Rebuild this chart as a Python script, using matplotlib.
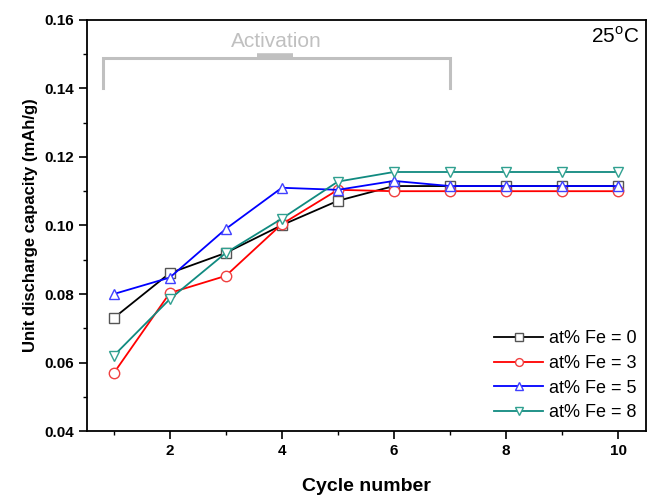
import numpy as np
from matplotlib import pyplot as plt
from matplotlib.ticker import MultipleLocator

plt.rcParams['font.family'] = ['Liberation Sans', 'DejaVu Sans']
plt.rcParams['mathtext.fontset'] = 'custom'
plt.rcParams['mathtext.rm'] = 'Liberation Sans'

cycles = np.arange(1, 11)

fe0 = [0.073, 0.0861, 0.092, 0.1001, 0.1072, 0.1115, 0.1115, 0.1115, 0.1115, 0.1115]
fe3 = [0.0569, 0.0803, 0.0853, 0.1004, 0.1104, 0.110, 0.110, 0.110, 0.110, 0.110]
fe5 = [0.080, 0.0848, 0.099, 0.111, 0.1104, 0.113, 0.1115, 0.1115, 0.1115, 0.1115]
fe8 = [0.062, 0.0785, 0.092, 0.102, 0.1128, 0.1156, 0.1156, 0.1156, 0.1156, 0.1156]

labels = ["at% Fe = 0", "at% Fe = 3", "at% Fe = 5", "at% Fe = 8"]
series = [fe0, fe3, fe5, fe8]
colors = ["black", "red", "blue", "#108a80"]
mcolors = ["#555555", "#f04040", "#4040ff", "#30a090"]
markers = ["s", "o", "^", "v"]

fig = plt.figure(figsize=(6.48, 4.95), dpi=100)
ax = fig.add_axes([0.134, 0.129, 0.863, 0.831])

for y, lab, c, mc, m in zip(series, labels, colors, mcolors, markers):
    ax.plot(cycles, y, color=c, lw=1.3, marker=m, ms=7.5, mfc="white",
            mec=mc, mew=1.0, label=lab)

ax.set_xlim(0.52, 10.5)
ax.set_ylim(0.04, 0.16)
ax.xaxis.set_major_locator(MultipleLocator(2))
ax.xaxis.set_minor_locator(MultipleLocator(1))
ax.yaxis.set_major_locator(MultipleLocator(0.02))
ax.yaxis.set_minor_locator(MultipleLocator(0.01))
ax.yaxis.set_major_formatter(plt.FuncFormatter(lambda v, p: f"{v:.2f}"))
ax.tick_params(which="major", direction="out", length=6, width=1.2, labelsize=11)
ax.tick_params(which="minor", direction="out", length=3, width=1.0)
ax.tick_params(top=False, right=False)
for lbl in ax.get_xticklabels() + ax.get_yticklabels():
    lbl.set_fontweight("bold")
for s in ax.spines.values():
    s.set_linewidth(1.3)

ax.set_xlabel("Cycle number", fontsize=14, fontweight="bold", labelpad=14)
ax.set_ylabel("Unit discharge capacity (mAh/g)", fontsize=12, fontweight="bold")

# activation bracket
gray = "#c0c0c0"
ax.plot([0.8, 0.8, 7.0, 7.0], [0.1401, 0.1489, 0.1489, 0.1401], color=gray, lw=2.2,
        solid_joinstyle="miter")
ax.plot([3.55, 4.2], [0.1494, 0.1494], color=gray, lw=4, solid_capstyle="butt")
ax.text(3.9, 0.1537, "Activation", color=gray, fontsize=15, ha="center", va="center")

ax.text(0.988, 0.985, "25$^{\\mathrm{o}}$C", transform=ax.transAxes, ha="right",
        va="top", fontsize=15)

ax.legend(loc="lower right", frameon=False, fontsize=13, handlelength=2.7,
          markerscale=0.75, borderaxespad=0.15, labelspacing=0.42,
          handletextpad=0.3)

fig.savefig("out.png", dpi=100)
